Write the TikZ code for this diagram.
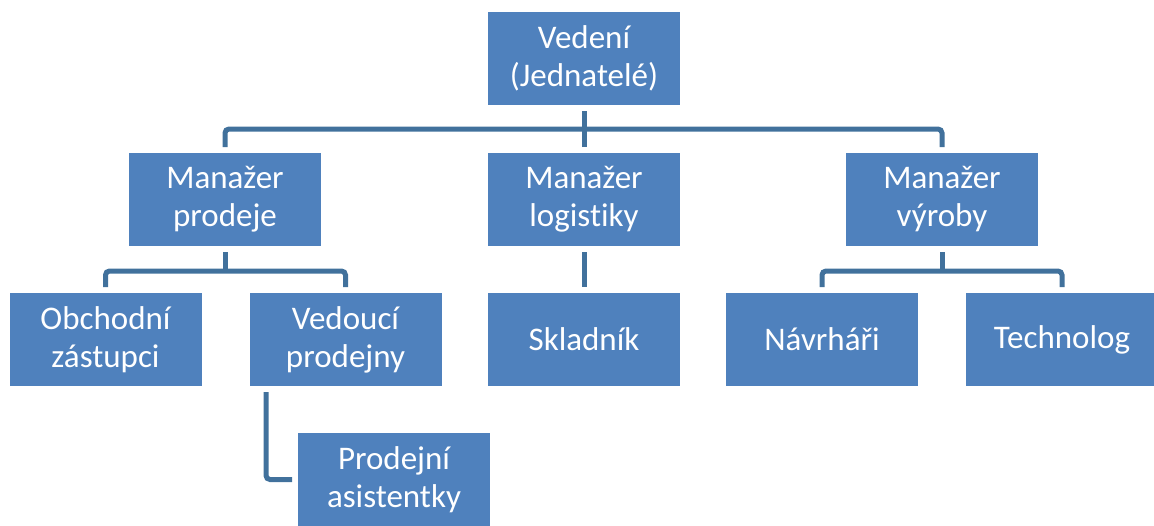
\documentclass[tikz,border=0pt]{standalone}
\usepackage{fontspec}
\setmainfont[Ligatures={NoCommon}]{Carlito}
\definecolor{boxblue}{HTML}{4F81BD}
\definecolor{lineblue}{HTML}{41719C}
\begin{document}
\begin{tikzpicture}[x=1pt,y=-1pt,
  orgbox/.style={rectangle, fill=boxblue, text=white, minimum width=192pt, minimum height=93pt,
    inner sep=0pt, outer sep=6pt, align=center, font=\fontsize{33}{38}\selectfont},
  conn/.style={draw=lineblue, line width=5pt, rounded corners=4pt}]
\useasboundingbox (0,0) rectangle (1154,525);
\node[orgbox] (V) at (584,58.5) {Vedení\\(Jednatelé)};
\node[orgbox] (MP) at (225,199.5) {Manažer\\prodeje};
\node[orgbox] (ML) at (584,199.5) {Manažer\\logistiky};
\node[orgbox] (MV) at (942,199.5) {Manažer\\výroby};
\node[orgbox] (OZ) at (105.5,339.5) {Obchodní\\zástupci};
\node[orgbox] (VP) at (345.5,339.5) {Vedoucí\\prodejny};
\node[orgbox] (SK) at (584,339.5) {Skladník};
\node[orgbox] (NA) at (822,339.5) {Návrháři};
\node[orgbox] (TE) at (1062,339.5) {Technolog};
\node[orgbox] (PA) at (394,479.5) {Prodejní\\asistentky};
\coordinate (b1) at (0,129);
\coordinate (b2) at (0,271);
\draw[conn] (V.south) -- (V.south |- b1);
\draw[conn] (MP.north) -- (MP.north |- b1) -- (MV.north |- b1) -- (MV.north);
\draw[conn] (ML.north) -- (ML.north |- b1);
\draw[conn] (MP.south) -- (MP.south |- b2);
\draw[conn] (OZ.north) -- (OZ.north |- b2) -- (VP.north |- b2) -- (VP.north);
\draw[conn] (ML.south) -- (SK.north);
\draw[conn] (MV.south) -- (MV.south |- b2);
\draw[conn] (NA.north) -- (NA.north |- b2) -- (TE.north |- b2) -- (TE.north);
\draw[conn] ([xshift=-79.5pt]VP.south) |- (PA.west);
\end{tikzpicture}
\end{document}
